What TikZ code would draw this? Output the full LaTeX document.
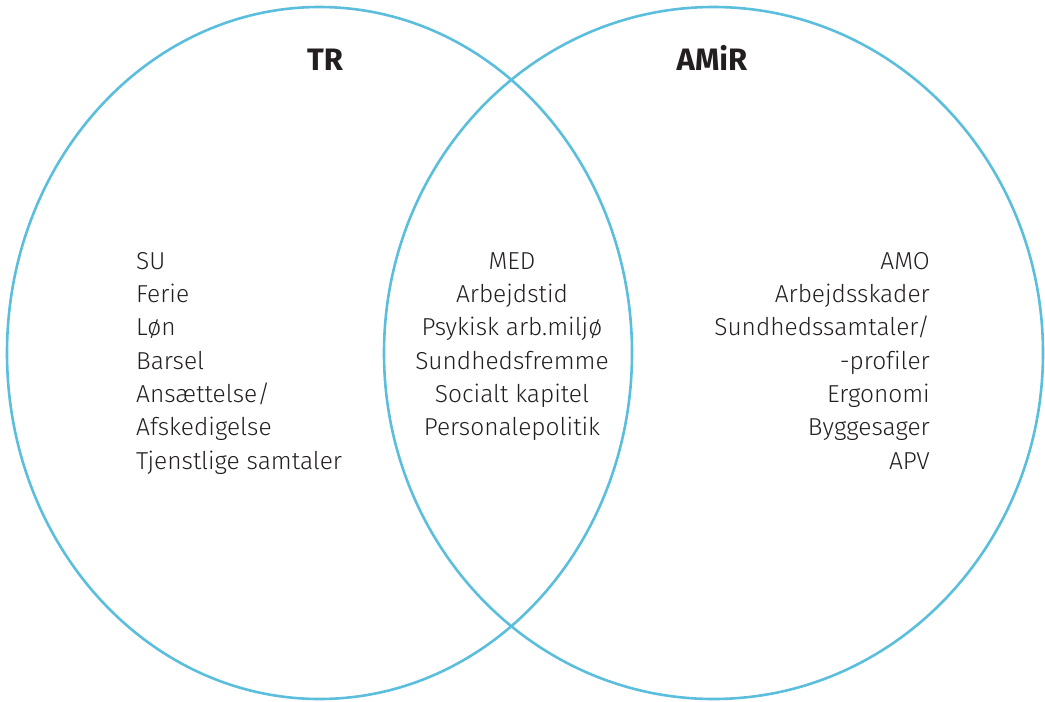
\documentclass[tikz,border=0pt]{standalone}
\usepackage{fontspec}
\setmainfont{Fira Sans}[UprightFont=* Light, BoldFont=* Bold, Ligatures=NoCommon]
\definecolor{venn}{RGB}{91,190,220}
\definecolor{txt}{RGB}{35,31,32}
\begin{document}
\begin{tikzpicture}[x=1pt,y=-1pt,
  ring/.style={draw=venn,line width=2.6pt},
  item/.style={inner sep=0pt,text=txt,font=\fontsize{24.5}{29}\selectfont},
  head/.style={inner sep=0pt,text=txt,font=\fontsize{31}{36}\selectfont\bfseries}]
\useasboundingbox (0,0) rectangle (1045,702);
\draw[ring] (319.5,353) ellipse [x radius=312.5, y radius=346];
\draw[ring] (713.5,353) ellipse [x radius=329.5, y radius=346];
\node[head,anchor=base] (tr) at (325,70) {TR};
\node[head,anchor=base] (amir) at (712,70) {AMiR};
\foreach \t [count=\i] in {SU,Ferie,Løn,Barsel,Ansættelse/,Afskedigelse,Tjenstlige samtaler}
  \node[item,anchor=base west] (l\i) at (136,269.3+33.33*\i-33.33) {\t};
\foreach \t [count=\i] in {MED,Arbejdstid,Psykisk arb.miljø,Sundhedsfremme,Socialt kapitel,Personalepolitik}
  \node[item,anchor=base] (m\i) at (512,269.3+33.33*\i-33.33) {\t};
\foreach \t [count=\i] in {AMO,Arbejdsskader,Sundhedssamtaler/,-profiler,Ergonomi,Byggesager,APV}
  \node[item,anchor=base east] (r\i) at (930,269.3+33.33*\i-33.33) {\t};
\end{tikzpicture}
\end{document}
